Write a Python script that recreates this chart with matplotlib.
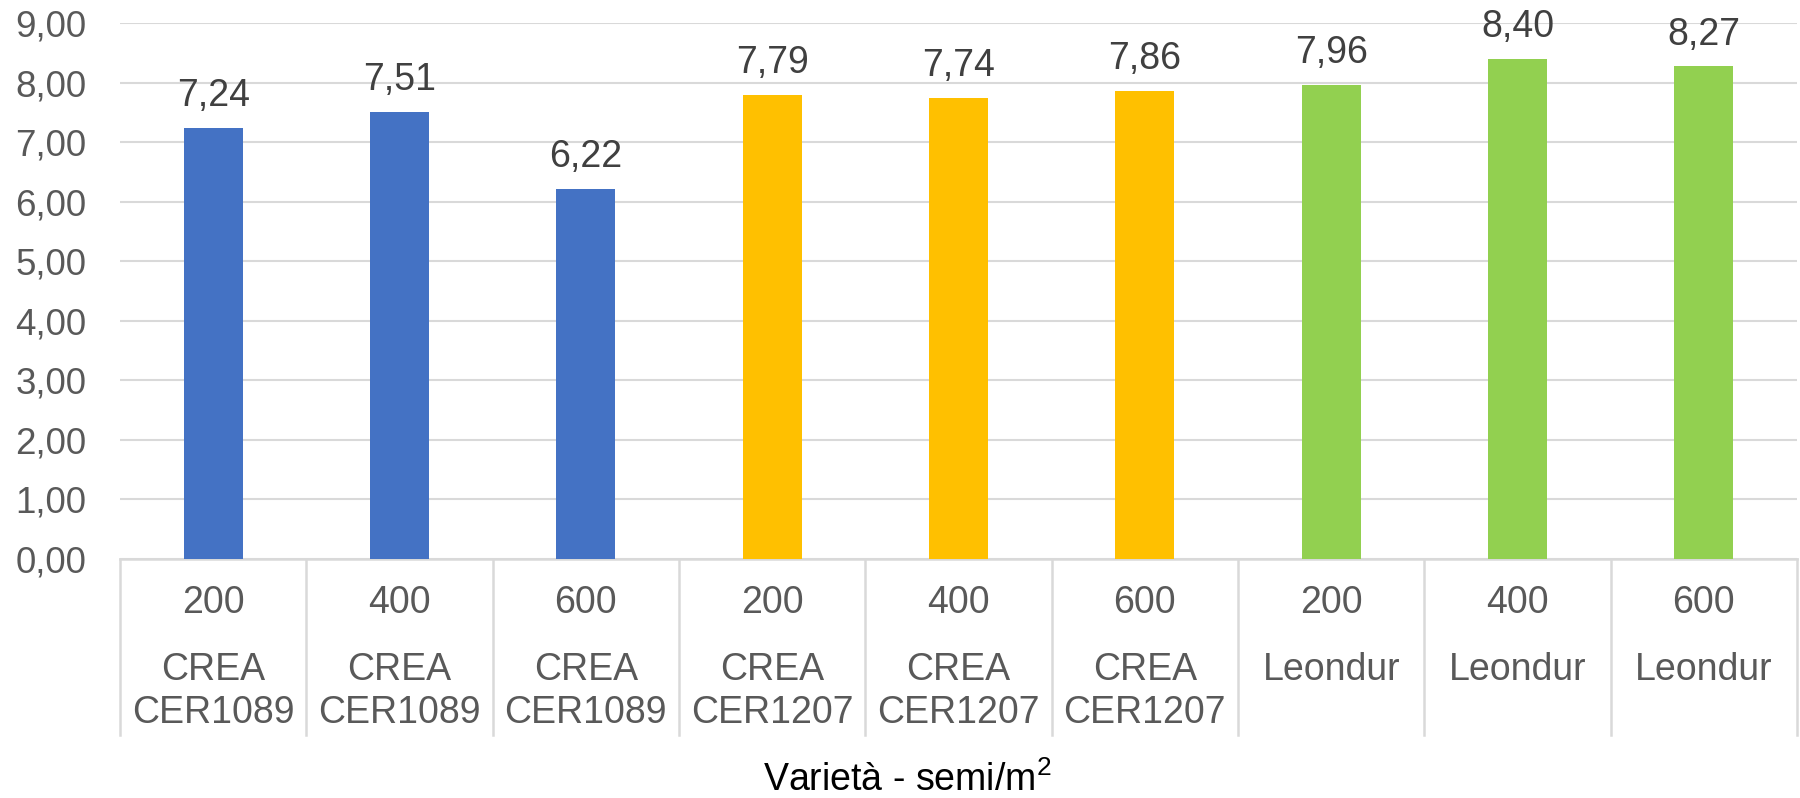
import matplotlib
matplotlib.use("Agg")
import matplotlib.pyplot as plt
import matplotlib.transforms as mtransforms

plt.rcParams['font.family'] = ['Liberation Sans', 'DejaVu Sans']
plt.rcParams['mathtext.fontset'] = 'custom'
plt.rcParams['mathtext.rm'] = 'Liberation Sans'
plt.rcParams['mathtext.it'] = 'Liberation Sans'
plt.rcParams['mathtext.default'] = 'regular'

densities = ["200", "400", "600", "200", "400", "600", "200", "400", "600"]
varieties = ["CREA\nCER1089", "CREA\nCER1089", "CREA\nCER1089",
             "CREA\nCER1207", "CREA\nCER1207", "CREA\nCER1207",
             "Leondur", "Leondur", "Leondur"]
values = [7.24, 7.51, 6.22, 7.79, 7.74, 7.86, 7.96, 8.40, 8.27]
colors = ["#4472C4"] * 3 + ["#FFC000"] * 3 + ["#92D050"] * 3
yticks = [0, 1, 2, 3, 4, 5, 6, 7, 8, 9]
xlabel = r"Varietà - semi/m$^{2}$"

W, H = 1800, 798
fig = plt.figure(figsize=(W / 100, H / 100), dpi=100)
left, right, top, bottom = 120, 1797, 23, 559
ax = fig.add_axes([left / W, (H - bottom) / H, (right - left) / W, (bottom - top) / H])

n = len(values)
x = list(range(n))
ax.bar(x, values, width=0.315, color=colors, zorder=3)
ax.set_xlim(-0.5, n - 0.5)
ax.set_ylim(0, 9)
ax.set_yticks(yticks)
ax.set_yticklabels([f"{v:.2f}".replace(".", ",") for v in yticks])
ax.tick_params(axis='y', length=0, pad=24, labelsize=26.5, labelcolor="#595959")
ax.set_xticks([])
ax.grid(axis='y', color="#D9D9D9", linewidth=1.5, zorder=0)
for s in ["top", "right", "left"]:
    ax.spines[s].set_visible(False)
ax.spines["bottom"].set_color("#D9D9D9")
ax.spines["bottom"].set_linewidth(1.8)

for xi, v in zip(x, values):
    ax.annotate(f"{v:.2f}".replace(".", ","), (xi, v), xytext=(0, 23),
                textcoords="offset points", ha="center", va="center",
                fontsize=27, color="#404040")

ph = bottom - top
def ay(py):
    return (bottom - py) / ph

trans = mtransforms.blended_transform_factory(ax.transData, ax.transAxes)
for b in range(n + 1):
    ax.plot([b - 0.5, b - 0.5], [0, ay(735)], transform=trans, color="#D9D9D9",
            linewidth=1.8, clip_on=False)

for xi, d, var in zip(x, densities, varieties):
    ax.text(xi, ay(603), d, transform=trans, ha="center", va="center",
            fontsize=27, color="#595959")
    for k, line in enumerate(var.split("\n")):
        ax.text(xi, ay(670 + 43 * k), line, transform=trans, ha="center", va="center",
                fontsize=27, color="#595959")

fig.text(907 / W, (H - 780) / H, xlabel, ha="center", va="center",
         fontsize=27, color="#000000")

fig.savefig("out.png", dpi=100, facecolor="white")
